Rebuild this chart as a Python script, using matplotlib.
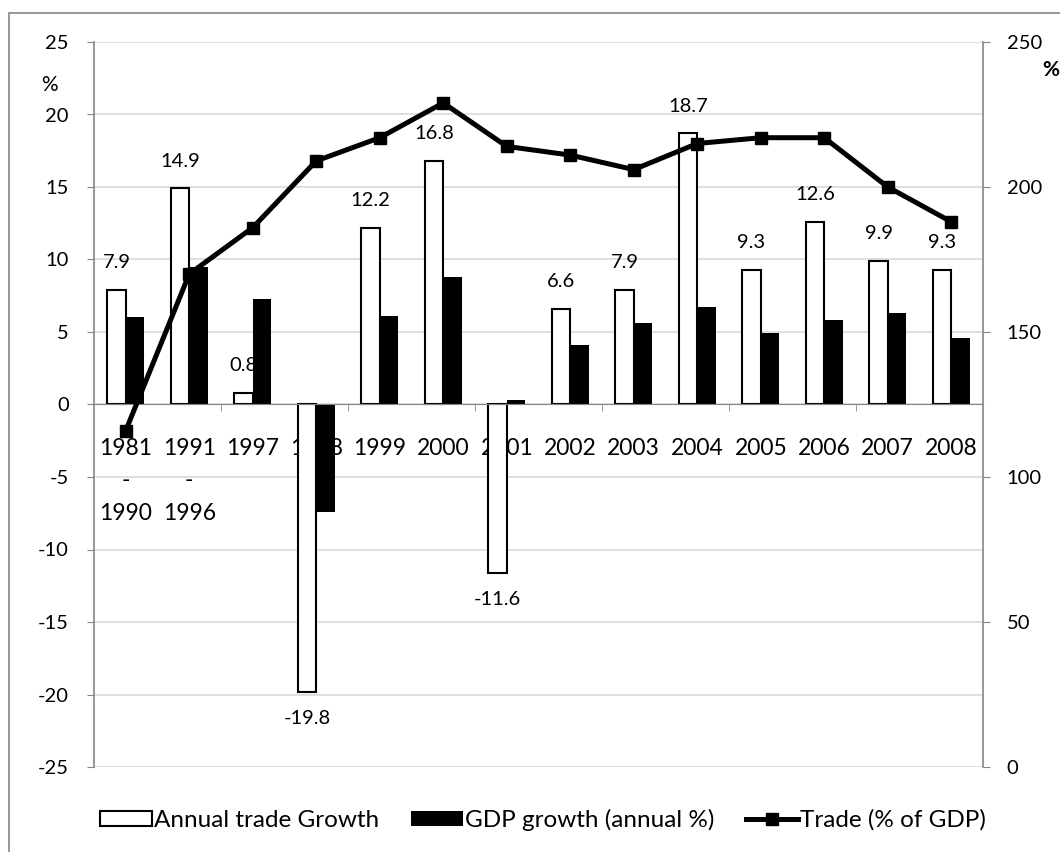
"""
plot.py

Annual trade growth and GDP growth (left axis, %) as paired bars,
with trade as a share of GDP (right axis, %) drawn as a line on top.
Writes out.png.
"""

import matplotlib
matplotlib.use("Agg")
import matplotlib.pyplot as plt
from matplotlib.patches import Rectangle
from matplotlib.lines import Line2D

CATEGORIES = ["1981\n-\n1990", "1991\n-\n1996", "1997", "1998", "1999",
              "2000", "2001", "2002", "2003", "2004", "2005", "2006",
              "2007", "2008"]
TRADE_GROWTH = [7.9, 14.9, 0.8, -19.8, 12.2, 16.8, -11.6, 6.6, 7.9, 18.7,
                9.3, 12.6, 9.9, 9.3]
GDP_GROWTH = [6.0, 9.5, 7.3, -7.4, 6.1, 8.8, 0.3, 4.1, 5.6, 6.7, 4.9, 5.8,
              6.3, 4.6]
TRADE_PCT_GDP = [116, 170, 186, 209, 217, 229, 214, 211, 206, 215, 217,
                 217, 200, 188]

LEFT_TICKS = [-25, -20, -15, -10, -5, 0, 5, 10, 15, 20, 25]
RIGHT_TICKS = [0, 50, 100, 150, 200, 250]

W, H = 1060, 852
GRAY = "#868686"
GRID = "#d9d9d9"
BAR_W = 0.29


def main():
    plt.rcParams["font.family"] = ["Lato", "DejaVu Sans"]
    plt.rcParams["axes.unicode_minus"] = False

    fig = plt.figure(figsize=(W / 100, H / 100), dpi=100)
    # plot area in pixels: x 94..983, y 42..767
    ax = fig.add_axes([94 / W, 1 - 767 / H, (983 - 94) / W, (767 - 42) / H])
    ax2 = ax.twinx()

    xs = list(range(len(CATEGORIES)))
    ax.set_axisbelow(True)
    white = ax.bar([x - BAR_W / 2 for x in xs], TRADE_GROWTH, BAR_W,
                   color="white", edgecolor="black", linewidth=1.5,
                   zorder=1, label="Annual trade Growth")
    black = ax.bar([x + BAR_W / 2 for x in xs], GDP_GROWTH, BAR_W,
                   color="black", linewidth=0, zorder=2,
                   label="GDP growth (annual %)")

    for x, v in zip(xs, TRADE_GROWTH):
        off = 19.5 if v >= 0 else -19.5
        ax.annotate(f"{v:.1f}", (x - BAR_W / 2, v), xytext=(0, off),
                    textcoords="offset points", ha="center", va="center",
                    fontsize=14.5, zorder=1.5)

    # category labels hang under the zero line; drawn as text so the
    # line spacing sticks and the bars can cover them (as in the source)
    ax.set_xticks(xs)
    ax.set_xticklabels([])
    for x, cat in zip(xs, CATEGORIES):
        ax.annotate(cat, (x, 0), xytext=(0, -24), textcoords="offset points",
                    ha="center", va="top", fontsize=16.5, linespacing=1.68,
                    zorder=0.6, annotation_clip=False)

    ax.set_xlim(-0.5, len(CATEGORIES) - 0.5)
    ax.set_ylim(-25, 25)
    ax.set_yticks(LEFT_TICKS)
    ax.set_xticks([1.5, 3.5, 5.5, 7.5, 9.5, 11.5], minor=True)
    ax.tick_params(axis="x", which="major", length=0)
    ax.tick_params(axis="x", which="minor", length=5, color=GRAY,
                   direction="out")
    ax.tick_params(axis="y", length=5, color=GRAY, pad=13, labelsize=14.5)
    ax.grid(axis="y", color=GRID, linewidth=1.2)

    ax.spines["bottom"].set_position(("data", 0))
    ax.spines["bottom"].set_color(GRAY)
    ax.spines["left"].set_color(GRAY)
    ax.spines["left"].set_linewidth(1.2)
    for side in ("top", "right"):
        ax.spines[side].set_visible(False)

    line, = ax2.plot(xs, TRADE_PCT_GDP, color="black", linewidth=3.6,
                     marker="s", markersize=9, label="Trade (% of GDP)")
    ax2.set_ylim(0, 250)
    ax2.set_yticks(RIGHT_TICKS)
    ax2.tick_params(axis="y", length=5, color=GRAY, pad=12, labelsize=14.5)
    ax2.spines["right"].set_color(GRAY)
    ax2.spines["right"].set_linewidth(1.2)
    for side in ("top", "left", "bottom"):
        ax2.spines[side].set_visible(False)

    fig.text(41 / W, 1 - 85 / H, "%", fontsize=15, va="center")
    fig.text(1042 / W, 1 - 70 / H, "%", fontsize=15, va="center",
             fontweight="bold")

    handles = [
        Rectangle((0, 0), 1, 1, facecolor="white", edgecolor="black",
                  linewidth=1.5),
        Rectangle((0, 0), 1, 1, facecolor="black", edgecolor="none"),
        Line2D([], [], color="black", linewidth=3.6, marker="s",
               markersize=9),
    ]
    labels = [white.get_label(), black.get_label(), line.get_label()]
    fig.legend(handles, labels, loc="center", ncol=3,
               bbox_to_anchor=(543 / W, 1 - 820 / H), frameon=False,
               fontsize=17.5, handlelength=2.14, handleheight=0.62,
               handletextpad=0.08, columnspacing=1.3, borderaxespad=0)

    # chart-area border, cut off at the right and bottom like the source
    fig.patches.append(Rectangle((9 / W, -0.05), 1.2, 1.05 - 13 / H,
                                 transform=fig.transFigure, fill=False,
                                 edgecolor=GRAY, linewidth=1.2))

    fig.savefig("out.png", dpi=100)


if __name__ == "__main__":
    main()
